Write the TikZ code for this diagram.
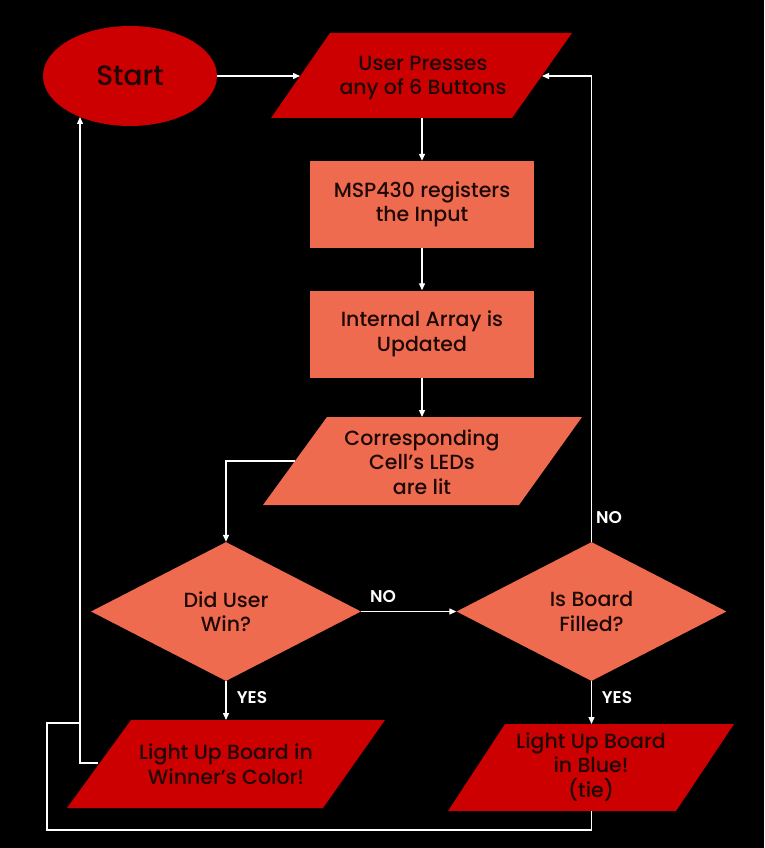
\documentclass[tikz,border=0pt]{standalone}
\usepackage{fontspec}
\setmainfont{Poppins}[UprightFont={* Medium},BoldFont={* SemiBold}]
\usetikzlibrary{shapes.geometric,arrows.meta}
\definecolor{dred}{HTML}{CC0000}
\definecolor{salmon}{HTML}{EE6B4F}
\definecolor{ink}{HTML}{1E0805}
\begin{document}
\begin{tikzpicture}[x=1pt,y=-1pt,
  txt/.style={text=ink,font=\fontsize{20.5}{24.5}\selectfont,align=center,inner sep=0pt},
  lbl/.style={text=white,font=\bfseries\fontsize{17}{18}\selectfont,inner sep=0pt},
  conn/.style={draw=white,line width=1.3pt,-{Triangle[length=7pt,width=6pt]}},
  wire/.style={draw=white,line width=1.3pt},
  procbox/.style={rectangle,fill=salmon,minimum width=224pt,minimum height=87pt,txt},
  decide/.style={diamond,fill=salmon,minimum width=270pt,minimum height=139pt,txt}]
\fill[black] (0,0) rectangle (764,848);
\useasboundingbox (0,0) rectangle (764,848);

% Start
\node[ellipse,fill=dred,minimum width=174pt,minimum height=100pt,txt,font=\fontsize{28}{32}\selectfont] (start) at (130,76) {Start};
\coordinate (startIn) at (80,117);

% User presses
\fill[dred] (330,33)--(572,33)--(512,118)--(271,118)--cycle;
\node[txt] (up) at (423,78) {User Presses\\any of 6 Buttons};
\coordinate (upL) at (300,76);
\coordinate (upR) at (542,76);
\coordinate (upB) at (422,118);

% process boxes
\node[procbox] (msp) at (422,204.5) {MSP430 registers\\the Input};
\node[procbox] (arr) at (422,334) {Internal Array is\\Updated};

% corresponding
\fill[salmon] (327,417)--(582,417)--(519,505)--(263,505)--cycle;
\node[txt] (corr) at (422,462) {Corresponding\\Cell’s LEDs\\are lit};
\coordinate (corrT) at (422,417);
\coordinate (corrL) at (295,461);

% decisions
\node[decide] (win) at (226,611.5) {Did User\\Win?};
\node[decide] (board) at (591.5,611.5) {Is Board\\Filled?};

% outputs
\fill[dred] (131,720)--(385,720)--(323,808)--(67,808)--cycle;
\node[txt] (winout) at (226,764) {Light Up Board in\\Winner’s Color!};
\coordinate (winT) at (226,720);
\coordinate (winL) at (98,763);

\fill[dred] (505,724)--(734,724)--(676,811)--(448,811)--cycle;
\node[txt] (blue) at (591,767) {Light Up Board\\in Blue!\\(tie)};
\coordinate (blueT) at (591.5,724);
\coordinate (blueB) at (591.5,811);

% connectors
\draw[conn] (start.east) -- (upL);
\draw[conn] (upB) -- (msp.north);
\draw[conn] (msp.south) -- (arr.north);
\draw[conn] (arr.south) -- (corrT);
\draw[conn] (corrL) -| (win.north);
\draw[conn] (win.east) -- (board.west);
\draw[conn] (board.north) |- (upR);
\draw[conn] (win.south) -- (winT);
\draw[conn] (board.south) -- (blueT);

\coordinate (j1) at (80,763);
\coordinate (j2) at (80,723);
\coordinate (c1) at (591.5,830);
\coordinate (c2) at (47,830);
\coordinate (c3) at (47,723);
\draw[conn] (winL) -- (j1) -- (startIn);
\draw[wire] (blueB) -- (c1) -- (c2) -- (c3) -- (j2);

% labels
\node[lbl] (no1) at (383,597) {NO};
\node[lbl] (no2) at (609,518) {NO};
\node[lbl] (yes1) at (252,698) {YES};
\node[lbl] (yes2) at (617,698) {YES};
\end{tikzpicture}
\end{document}
